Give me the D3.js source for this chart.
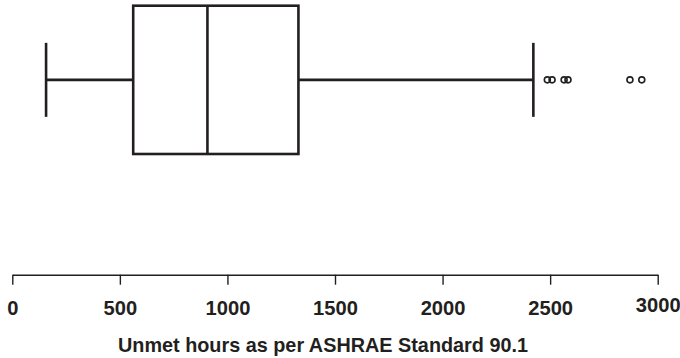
<!DOCTYPE html>
<html><head><meta charset="utf-8">
<script src="https://cdn.jsdelivr.net/npm/d3@7"></script>
<style>body{margin:0;background:#fff}svg{display:block}</style>
</head><body>
<svg id="chart" width="680" height="358"></svg>
<script>
// Data (unmet hours)
const whiskerLow = [157];
const quartiles = [562, 907, 1330]; // Q1, median, Q3
const whiskerHigh = [2422];
const outliers = [2487, 2509, 2565, 2583, 2871, 2926];
const tickValues = [0, 500, 1000, 1500, 2000, 2500, 3000];
const axisTitle = ["Unmet hours as per ASHRAE Standard 90.1"];

const svg = d3.select("#chart");
const ink = "#231f20";
const x = d3.scaleLinear().domain([0, 3000]).range([12.3, 657.7]);
const y = d3.scaleBand().domain(["a"]).range([5.7, 154]);
const yc = y("a") + y.bandwidth() / 2;
const capH = 37;

const g = svg.append("g").attr("stroke", ink).attr("stroke-width", 2.6).attr("fill", "none");
g.append("line").attr("x1", x(whiskerLow[0])).attr("x2", x(quartiles[0])).attr("y1", yc).attr("y2", yc);
g.append("line").attr("x1", x(quartiles[2])).attr("x2", x(whiskerHigh[0])).attr("y1", yc).attr("y2", yc);
[whiskerLow[0], whiskerHigh[0]].forEach(v => {
  g.append("line").attr("x1", x(v)).attr("x2", x(v)).attr("y1", yc - capH).attr("y2", yc + capH);
});
g.append("rect").attr("x", x(quartiles[0])).attr("y", y("a"))
  .attr("width", x(quartiles[2]) - x(quartiles[0])).attr("height", y.bandwidth());
g.append("line").attr("x1", x(quartiles[1])).attr("x2", x(quartiles[1])).attr("y1", y("a")).attr("y2", y("a") + y.bandwidth());
svg.append("g").selectAll("circle").data(outliers).join("circle")
  .attr("cx", d => x(d)).attr("cy", yc).attr("r", 3)
  .attr("fill", "none").attr("stroke", ink).attr("stroke-width", 1.6);

const axis = svg.append("g").attr("transform", "translate(0,274.7)")
  .call(d3.axisBottom(x).tickValues(tickValues).tickSize(10).tickSizeOuter(0).tickFormat(d3.format("d")));
axis.select(".domain").attr("stroke", ink).attr("stroke-width", 1.6);
axis.selectAll(".tick line").attr("stroke", ink).attr("stroke-width", 1.4);
axis.selectAll(".tick text")
  .attr("fill", ink)
  .attr("y", 0).attr("dy", 0)
  .attr("transform", d => `translate(0,${d === 3000 ? 37.5 : 40.3}) scale(0.96,1)`)
  .style("font-family", "'Liberation Sans', Arial, sans-serif")
  .style("font-weight", "bold").style("font-size", "21px");

svg.append("text").attr("x", 323).attr("y", 351.7).attr("text-anchor", "middle")
  .attr("fill", ink)
  .attr("textLength", 410).attr("lengthAdjust", "spacingAndGlyphs")
  .style("font-family", "'Liberation Sans', Arial, sans-serif")
  .style("font-weight", "bold").style("font-size", "21px")
  .text(axisTitle[0]);
</script>
</body></html>
